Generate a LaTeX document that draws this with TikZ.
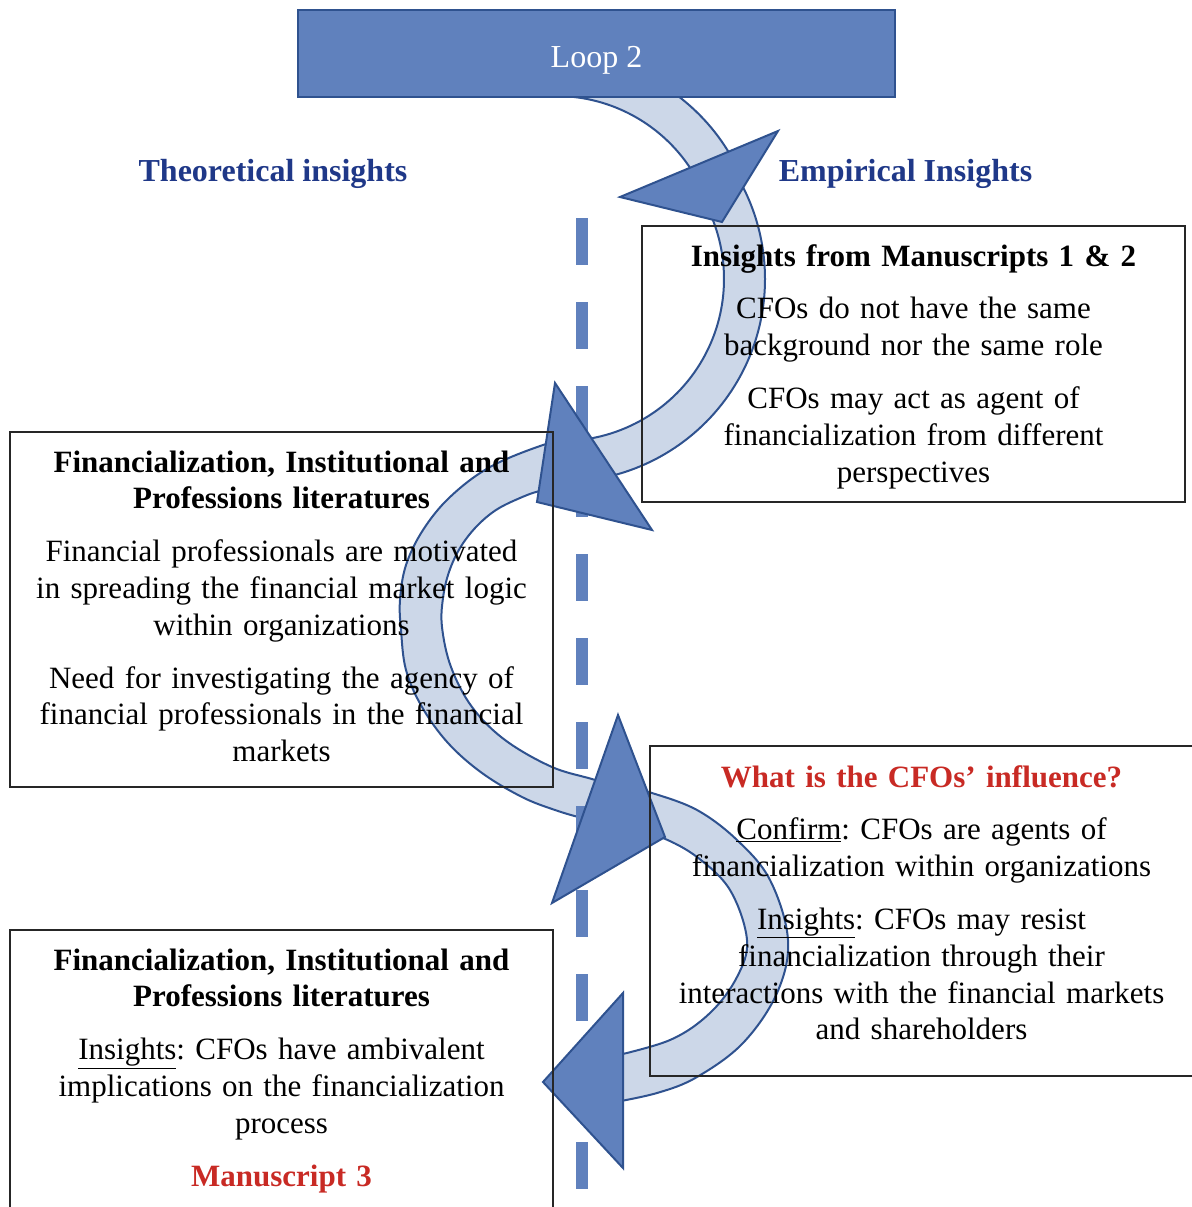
\documentclass[tikz,border=0pt]{standalone}
\usepackage{fontspec}
\setmainfont{Liberation Serif}
\frenchspacing
\definecolor{accfill}{RGB}{96,129,189}
\definecolor{accline}{RGB}{47,82,143}
\definecolor{bandfill}{RGB}{204,215,232}
\definecolor{titleblue}{RGB}{31,56,136}
\definecolor{redtxt}{RGB}{200,42,36}
\begin{document}
\begin{tikzpicture}[x=1pt,y=-1pt,
  band/.style={fill=bandfill,draw=accline,line width=2pt,line join=round},
  head/.style={fill=accfill,draw=accline,line width=2pt,line join=miter},
  boxst/.style={draw=black!85,line width=1.4pt,inner sep=0pt},
  txt/.style={font=\fontsize{31}{36.8}\selectfont,align=center,text width=540pt,inner sep=0pt,anchor=base},
  hdr/.style={font=\fontsize{32}{36.8}\selectfont\bfseries,text=titleblue,inner sep=0pt,anchor=base},
  dashline/.style={draw=accfill,line width=12pt,dash pattern=on 47pt off 37pt}]
\useasboundingbox (0,0) rectangle (1191,1207);
\coordinate (c1) at (556,257);
\coordinate (c2) at (562,279);
% curved bands
\path[band] ([shift={(c1)}]-95:202) arc[start angle=-95,end angle=-22,radius=202]
  -- ([shift={(c1)}]-22:161) arc[start angle=-22,end angle=-95,radius=161] -- cycle;
\path[band] ([shift={(c2)}]-30:203) arc[start angle=-30,end angle=82,radius=203]
  -- ([shift={(c2)}]82:162) arc[start angle=82,end angle=-30,radius=162] -- cycle;
\path[band] plot[smooth,tension=0.6] coordinates {(575,438) (543,445) (490,467) (450,497) (423,530) (406,565) (400,600) (401,630) (406,670) (422,707) (448,743) (482,773) (522,797) (555,810) (582,818) (600,822)}
  -- plot[smooth,tension=0.6] coordinates {(610,788) (595,780) (552,767) (505,740) (472,707) (451,667) (442,627) (443,598) (449,572) (460,548) (476,527) (496,510) (520,498) (540,491) (565,488)} -- cycle;
\path[band] plot[smooth,tension=0.6] coordinates {(632,789) (652,793) (697,810) (737,840) (770,880) (788,940) (777,993) (743,1043) (697,1077) (657,1093) (610,1103)}
  -- plot[smooth,tension=0.6] coordinates {(610,1057) (670,1040) (710,1013) (737,977) (747,940) (730,890) (697,857) (663,838) (640,833)} -- cycle;
% dashed divider
\coordinate (dtop) at (582,218);
\coordinate (dbot) at (582,1190);
\draw[dashline] (dtop) -- (dbot);
% arrow heads
\path[head] (620,197) -- (778,131) -- (722,222) -- cycle;
\path[head] (555,383) -- (652,530) -- (537,502) -- cycle;
\path[head] (618,715) -- (665,837) -- (552,903) -- cycle;
\path[head] (623,993) -- (543,1082) -- (623,1168) -- cycle;
% loop box
\node[fill=accfill,draw=accline,line width=2.5pt,minimum width=597pt,minimum height=87pt,inner sep=0pt] (loop) at (596.5,53.5) {};
\node[font=\fontsize{32}{36.8}\selectfont,text=white,anchor=base,inner sep=0pt] (looplbl) at (596.5,67) {Loop 2};
% headers
\node[hdr] (theo) at (273,181) {Theoretical insights};
\node[hdr] (emp) at (905.5,181) {Empirical Insights};
% boxes
\node[boxst,minimum width=543pt,minimum height=276pt] (ins12) at (913.5,364) {};
\node[boxst,minimum width=543pt,minimum height=355pt] (lit1) at (281.5,609.5) {};
\node[boxst,minimum width=543pt,minimum height=330pt] (infl) at (921.5,911) {};
\node[boxst,minimum width=543pt,minimum height=282pt] (lit2) at (281.5,1071) {};
% texts
\node[txt] (ins12t) at (913.5,266) {\textbf{Insights from Manuscripts 1 \& 2}\\[16pt]
  CFOs do not have the same\\ background nor the same role\\[16pt]
  CFOs may act as agent of\\ financialization from different\\ perspectives};
\node[txt] (lit1t) at (281.5,472) {\textbf{Financialization, Institutional and}\\ \textbf{Professions literatures}\\[16pt]
  Financial professionals are motivated\\ in spreading the financial market logic\\ within organizations\\[16pt]
  Need for investigating the agency of\\ financial professionals in the financial\\ markets};
\node[txt] (inflt) at (921.5,787) {{\color{redtxt}\bfseries What is the CFOs’ influence?}\\[16pt]
  \underline{Confirm}: CFOs are agents of\\ financialization within organizations\\[16pt]
  \underline{Insights}: CFOs may resist\\ financialization through their\\ interactions with the financial markets\\ and shareholders};
\node[txt] (lit2t) at (281.5,970) {\textbf{Financialization, Institutional and}\\ \textbf{Professions literatures}\\[16pt]
  \underline{Insights}: CFOs have ambivalent\\ implications on the financialization\\ process\\[16pt]
  {\color{redtxt}\bfseries Manuscript 3}};
\end{tikzpicture}
\end{document}
